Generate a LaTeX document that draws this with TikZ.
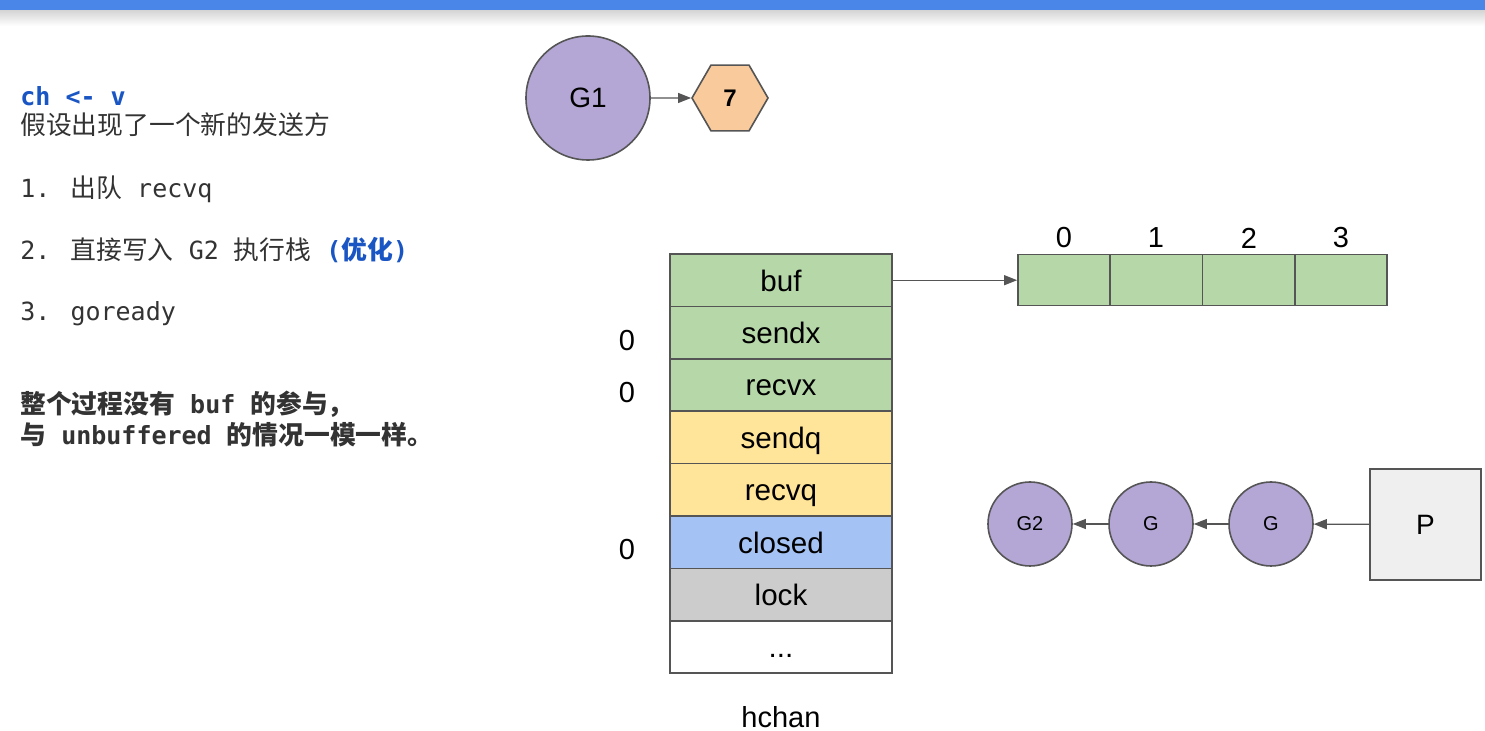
\documentclass[tikz,border=0pt]{standalone}
\usepackage{fontspec}
\setmainfont{Liberation Sans}
\newfontfamily\cjk{Noto Sans CJK SC}
\newfontfamily\monof{DejaVu Sans Mono}
\usetikzlibrary{shapes.geometric,arrows.meta}
\definecolor{bordc}{HTML}{555555}
\definecolor{gfill}{HTML}{B6D7A8}
\definecolor{yfill}{HTML}{FFE599}
\definecolor{bfill}{HTML}{A4C2F4}
\definecolor{grfill}{HTML}{CCCCCC}
\definecolor{pfill}{HTML}{B4A7D6}
\definecolor{ofill}{HTML}{F9CB9C}
\definecolor{sqfill}{HTML}{EFEFEF}
\definecolor{topbar}{HTML}{4A86E8}
\definecolor{txtc}{HTML}{333333}
\definecolor{bluetxt}{HTML}{1A55C4}
\newcommand{\M}[1]{{\monof\fontsize{12.5}{15}\selectfont #1}}
\newcommand{\C}[1]{{\cjk\fontsize{12.9}{15}\selectfont #1}}
\begin{document}
\begin{tikzpicture}[x=0.5pt,y=-0.5pt,
  row/.style={draw=bordc,line width=0.8pt,minimum width=111pt,minimum height=26.2pt,inner sep=0pt,text height=13pt,text depth=2pt,font=\fontsize{14.8}{17}\selectfont},
  cell/.style={draw=bordc,line width=0.8pt,fill=gfill,minimum width=46.2pt,minimum height=25.5pt,inner sep=0pt},
  gcirc/.style={circle,draw=bordc,line width=0.8pt,fill=pfill,inner sep=0pt,minimum size=42pt,font=\fontsize{10}{12}\selectfont},
  lbl/.style={font=\fontsize{14.5}{17}\selectfont,inner sep=0pt},
  ltxt/.style={anchor=base west,inner sep=0pt,text=txtc},
  arr/.style={-{Triangle[length=6.5pt,width=5pt]},draw=bordc,line width=0.6pt}]
\useasboundingbox (0,0) rectangle (1485,731);
\fill[white] (0,0) rectangle (1485,731);
% top bar
\shade[top color=black!18,bottom color=white] (0,9) rectangle (1485,26);
\fill[topbar] (0,0) rectangle (1485,10);

% left text
\node[ltxt,text=bluetxt] (t0) at (20,106) {\M{\bfseries ch <- v}};
\node[ltxt] (t1) at (20,135) {\C{假设出现了一个新的发送方}};
\node[ltxt] (t2) at (20,198) {\M{1. }\C{出队}\M{ recvq}};
\node[ltxt] (t3) at (20,260) {\M{2. }\C{直接写入}\M{ G2 }\C{执行栈}\M{ }\textcolor{bluetxt}{\M{\bfseries(}\C{\bfseries 优化}\M{\bfseries)}}};
\node[ltxt] (t4) at (20,321) {\M{3. goready}};
\node[ltxt] (t5) at (20,414) {\C{\bfseries 整个过程没有}\M{\bfseries\ buf }\C{\bfseries 的参与，}};
\node[ltxt] (t6) at (20,445) {\C{\bfseries 与}\M{\bfseries\ unbuffered }\C{\bfseries 的情况一模一样。}};

% G1 and hexagon
\node[circle,draw=bordc,line width=0.8pt,fill=pfill,inner sep=0pt,minimum size=62pt,font=\fontsize{14}{16}\selectfont] (g1) at (588,98) {G1};
\node[regular polygon,regular polygon sides=6,draw=bordc,line width=0.8pt,fill=ofill,inner sep=0pt,minimum size=38pt,font=\bfseries\fontsize{12}{14}\selectfont] (h7) at (730,98) {7};
\draw[arr] (g1) -- (h7);

% hchan
\node[row,fill=gfill] (buf) at (781,280.2) {buf};
\node[row,fill=gfill] (sendx) at (781,332.6) {sendx};
\node[row,fill=gfill] (recvx) at (781,385.0) {recvx};
\node[row,fill=yfill] (sendq) at (781,437.4) {sendq};
\node[row,fill=yfill] (recvq) at (781,489.8) {recvq};
\node[row,fill=bfill] (closed) at (781,542.2) {closed};
\node[row,fill=grfill] (lock) at (781,594.6) {lock};
\node[row,fill=white] (more) at (781,647.0) {...};
\node[lbl] (hchan) at (781,717) {hchan};
\node[lbl] (z1) at (627,341) {0};
\node[lbl] (z2) at (627,393) {0};
\node[lbl] (z3) at (627,550) {0};

% buffer array
\node[cell] (c0) at (1064.1,280.2) {};
\node[cell] (c1) at (1156.4,280.2) {};
\node[cell] (c2) at (1248.7,280.2) {};
\node[cell] (c3) at (1341,280.2) {};
\node[lbl] (i0) at (1064,238) {0};
\node[lbl] (i1) at (1156,238) {1};
\node[lbl] (i2) at (1249,238) {2};
\node[lbl] (i3) at (1341,238) {3};
\draw[arr] (buf.east) -- (c0.west);

% queue
\node[gcirc] (g2) at (1030,524) {G2};
\node[gcirc] (ga) at (1151,524) {G};
\node[gcirc] (gb) at (1271,524) {G};
\node[draw=bordc,line width=0.8pt,fill=sqfill,minimum size=55.5pt,inner sep=0pt,font=\fontsize{14}{16}\selectfont] (p) at (1425.5,524.5) {P};
\draw[arr] (p) -- (gb);
\draw[arr] (gb) -- (ga);
\draw[arr] (ga) -- (g2);
\end{tikzpicture}
\end{document}
